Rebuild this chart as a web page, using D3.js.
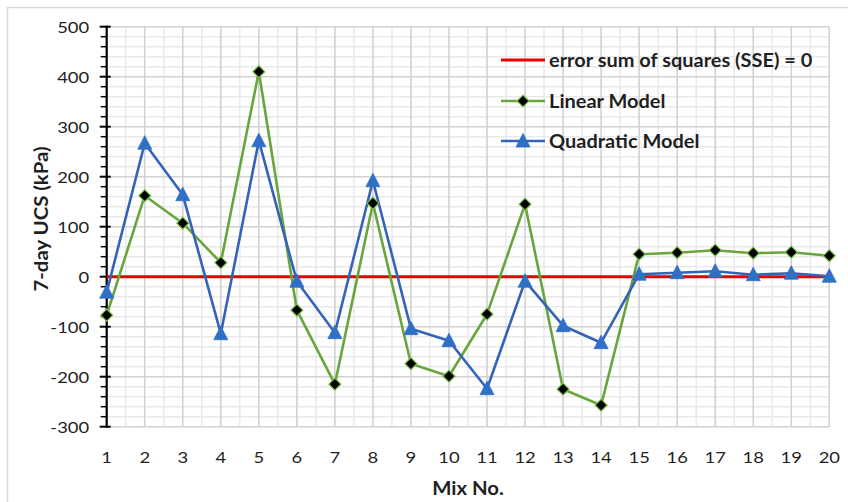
<!DOCTYPE html>
<html>
<head>
<meta charset="utf-8">
<script src="https://cdn.jsdelivr.net/npm/d3@7"></script>
<style>
  html, body { margin: 0; padding: 0; background: #fff; }
  svg { display: block; }
</style>
</head>
<body>
<svg id="chart" width="848" height="502"></svg>
<script>
// Mix numbers on the x axis
const mixNo = [1, 2, 3, 4, 5, 6, 7, 8, 9, 10, 11, 12, 13, 14, 15, 16, 17, 18, 19, 20];
// Reference line: error sum of squares (SSE) = 0
const sseZero = [0, 0, 0, 0, 0, 0, 0, 0, 0, 0, 0, 0, 0, 0, 0, 0, 0, 0, 0, 0];
// 7-day UCS residuals (kPa)
const linearModel = [-77, 162, 107, 28, 410, -67, -215, 147, -174, -199, -75, 145, -225, -257, 45, 48, 53, 47, 49, 42];
const quadraticModel = [-31, 267, 164, -114, 272, -9, -112, 192, -104, -128, -224, -9, -98, -132, 5, 8, 11, 4, 7, 1];
// Axis ticks
const yTicks = [-300, -200, -100, 0, 100, 200, 300, 400, 500];
const legendLabels = ["error sum of squares (SSE) = 0", "Linear Model", "Quadratic Model"];

const svg = d3.select("#chart");
const font = "Lato, 'Open Sans', sans-serif";
const stretch = 1.15;

const x = d3.scaleLinear().domain([1, 20]).range([106.7, 829.3]);
const y = d3.scaleLinear().domain([-300, 500]).range([426.7, 26.7]);

// outer chart frame
svg.append("rect")
  .attr("x", 7.5).attr("y", 7.5)
  .attr("width", 900).attr("height", 600)
  .attr("fill", "#fff").attr("stroke", "#d9d9d9").attr("stroke-width", 1.5);

const grid = svg.append("g");
// minor horizontal gridlines every 20 kPa
grid.selectAll(".hmin").data(d3.range(-300, 501, 20).filter(v => v % 100 !== 0))
  .join("line")
  .attr("x1", x(1)).attr("x2", x(20))
  .attr("y1", d => y(d)).attr("y2", d => y(d))
  .attr("stroke", "#e9e9e9").attr("stroke-width", 1.5);
// minor vertical gridlines between mixes
grid.selectAll(".vmin").data(mixNo.slice(0, -1).map(d => d + 0.5))
  .join("line")
  .attr("x1", d => x(d)).attr("x2", d => x(d))
  .attr("y1", y(500)).attr("y2", y(-300))
  .attr("stroke", "#e9e9e9").attr("stroke-width", 1.5);
// major horizontal gridlines
grid.selectAll(".hmaj").data(yTicks)
  .join("line")
  .attr("x1", x(1)).attr("x2", x(20))
  .attr("y1", d => y(d)).attr("y2", d => y(d))
  .attr("stroke", "#d2d2d2").attr("stroke-width", 1.6);
// major vertical gridlines
grid.selectAll(".vmaj").data(mixNo.slice(1))
  .join("line")
  .attr("x1", d => x(d)).attr("x2", d => x(d))
  .attr("y1", y(500)).attr("y2", y(-300))
  .attr("stroke", "#d2d2d2").attr("stroke-width", 1.6);

// y axis line and ticks
const axis = svg.append("g");
axis.selectAll(".ymin").data(d3.range(-300, 501, 20).filter(v => v % 100 !== 0))
  .join("line")
  .attr("x1", x(1) - 6).attr("x2", x(1))
  .attr("y1", d => y(d)).attr("y2", d => y(d))
  .attr("stroke", "#000").attr("stroke-width", 1.5);
axis.selectAll(".ymaj").data(yTicks)
  .join("line")
  .attr("x1", x(1) - 7).attr("x2", x(1) + 4)
  .attr("y1", d => y(d)).attr("y2", d => y(d))
  .attr("stroke", "#000").attr("stroke-width", 2);
axis.append("line")
  .attr("x1", x(1)).attr("x2", x(1))
  .attr("y1", y(500) - 1).attr("y2", y(-300) + 1)
  .attr("stroke", "#000").attr("stroke-width", 2.2);

function stretchedText(g, tx, ty, str, anchor, size, weight, sx) {
  return g.append("text")
    .attr("transform", `translate(${tx},${ty}) scale(${sx || stretch},1)`)
    .attr("text-anchor", anchor)
    .attr("font-family", font)
    .attr("font-size", size)
    .attr("font-weight", weight)
    .attr("fill", "#1f1f1f")
    .text(str);
}

// tick labels
yTicks.forEach(v => stretchedText(axis, x(1) - 17.5, y(v) + 5.8, String(v), "end", 16, 400));
mixNo.forEach(m => stretchedText(axis, x(m), 462.5, String(m), "middle", 16, 400));

// axis titles
stretchedText(svg, 468, 495, "Mix No.", "middle", 18.5, 700, 1.1);
svg.append("text")
  .attr("transform", `translate(48,219) rotate(-90) scale(1.1,1)`)
  .attr("text-anchor", "middle")
  .attr("font-family", font).attr("font-size", 18.5).attr("font-weight", 700)
  .attr("fill", "#1f1f1f")
  .text("7-day UCS (kPa)");

// series
const line = d3.line().x((d, i) => x(mixNo[i])).y(d => y(d));
const green = "#68a53d", blue = "#3463b8", red = "#ee0000";

svg.append("path").datum(sseZero).attr("d", line)
  .attr("fill", "none").attr("stroke", red).attr("stroke-width", 3);

svg.append("path").datum(linearModel).attr("d", line)
  .attr("fill", "none").attr("stroke", green).attr("stroke-width", 2.6)
  .attr("stroke-linejoin", "round");
svg.append("path").datum(quadraticModel).attr("d", line)
  .attr("fill", "none").attr("stroke", blue).attr("stroke-width", 2.6)
  .attr("stroke-linejoin", "round");

const diamond = "M0,-6L6,0L0,6L-6,0Z";
const triangle = "M0,-7.5L7,6L-7,6Z";

svg.append("g").selectAll("path").data(linearModel).join("path")
  .attr("transform", (d, i) => `translate(${x(mixNo[i])},${y(d)})`)
  .attr("d", diamond)
  .attr("fill", "#000").attr("stroke", "#7cc04a").attr("stroke-width", 1.2);
svg.append("g").selectAll("path").data(quadraticModel).join("path")
  .attr("transform", (d, i) => `translate(${x(mixNo[i])},${y(d)})`)
  .attr("d", triangle)
  .attr("fill", "#2f6fc6").attr("stroke", "#2f6fc6").attr("stroke-width", 0.8);

// legend
const legend = svg.append("g");
const legendY = [60, 101, 141];
const legendColors = [red, green, blue];
legendLabels.forEach((label, i) => {
  legend.append("line")
    .attr("x1", 501).attr("x2", 545)
    .attr("y1", legendY[i]).attr("y2", legendY[i])
    .attr("stroke", legendColors[i]).attr("stroke-width", i === 0 ? 3 : 2.6);
  stretchedText(legend, 549, legendY[i] + 6.8, label, "start", 18.5, 700, 1.08);
});
legend.append("path").attr("transform", `translate(523,${legendY[1]})`)
  .attr("d", diamond).attr("fill", "#000").attr("stroke", "#7cc04a").attr("stroke-width", 1.2);
legend.append("path").attr("transform", `translate(523,${legendY[2]})`)
  .attr("d", triangle).attr("fill", "#2f6fc6").attr("stroke", "#2f6fc6").attr("stroke-width", 0.8);
</script>
</body>
</html>
